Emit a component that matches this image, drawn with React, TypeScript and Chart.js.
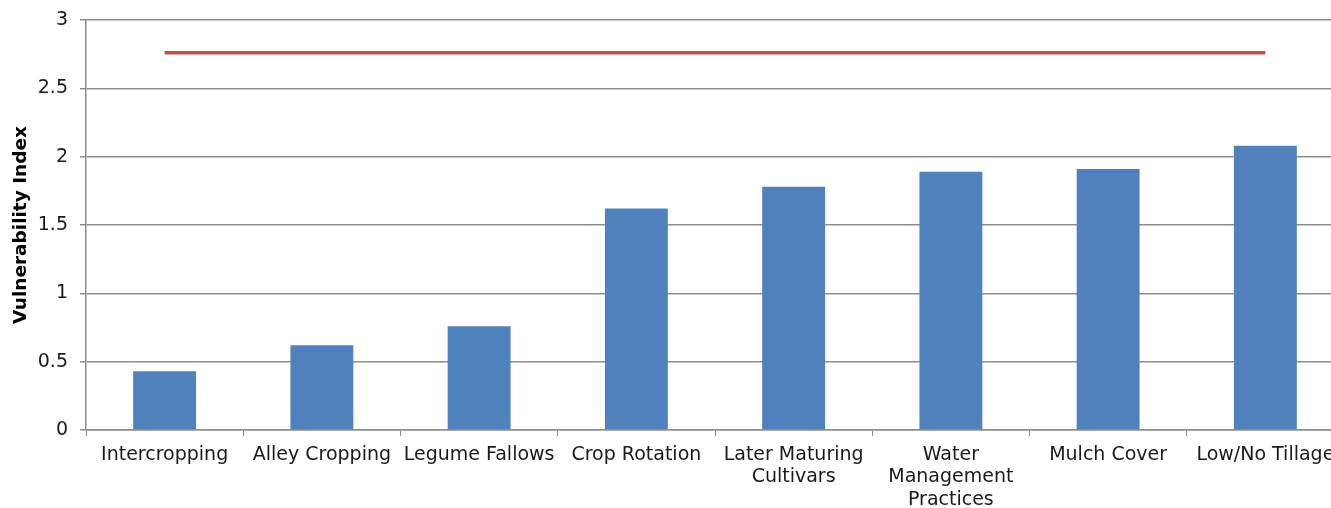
import React, { useEffect, useRef } from "react";
import { Chart, registerables } from "chart.js";

Chart.register(...registerables);

const categories: (string | string[])[] = [
  "Intercropping",
  "Alley Cropping",
  "Legume Fallows",
  "Crop Rotation",
  ["Later Maturing", "Cultivars"],
  ["Water", "Management", "Practices"],
  "Mulch Cover",
  "Low/No Tillage",
];
const vulnerability = [0.43, 0.62, 0.76, 1.62, 1.78, 1.89, 1.91, 2.08];
const threshold = [2.76, 2.76, 2.76, 2.76, 2.76, 2.76, 2.76, 2.76];
const yTicks = [0, 0.5, 1, 1.5, 2, 2.5, 3];

export default function App() {
  const ref = useRef<HTMLCanvasElement | null>(null);
  useEffect(() => {
    document.body.style.margin = "0";
    const ctx = ref.current!;
    const font = "'DejaVu Sans', Verdana, sans-serif";
    const chart = new Chart(ctx, {
      type: "bar",
      data: {
        labels: categories,
        datasets: [
          {
            type: "line",
            label: "Threshold",
            data: threshold,
            borderColor: "#c0504d",
            borderWidth: 3.5,
            pointRadius: 0,
            fill: false,
            order: 0,
          } as any,
          {
            type: "bar",
            label: "Vulnerability Index",
            data: vulnerability,
            backgroundColor: "#4f81bd",
            barPercentage: 0.4,
            categoryPercentage: 1,
            order: 1,
          },
        ],
      },
      options: {
        responsive: false,
        animation: false,
        maintainAspectRatio: false,
        layout: { padding: { top: 20, right: 0, bottom: 0, left: 0 } },
        plugins: { legend: { display: false }, tooltip: { enabled: false } },
        scales: {
          x: {
            offset: true,
            grid: {
              offset: true,
              drawOnChartArea: false,
              drawTicks: true,
              tickLength: 6,
              color: "#8e8e8e",
            },
            border: { display: true, color: "#8e8e8e", width: 1.5 },
            ticks: {
              color: "#1a1a1a",
              font: { family: font, size: 19, lineHeight: 1.17 },
              padding: 8,
              maxRotation: 0,
              autoSkip: false,
            },
            afterFit: (s: any) => {
              s.height = 78;
              s.paddingLeft = 0;
              s.paddingRight = 0;
            },
          },
          y: {
            min: 0,
            max: 3,
            afterBuildTicks: (s: any) => {
              s.ticks = yTicks.map((v) => ({ value: v }));
            },
            grid: { color: "#8e8e8e", lineWidth: 1.5, tickLength: 6 },
            border: { display: true, color: "#8e8e8e", width: 1.5 },
            ticks: {
              color: "#1a1a1a",
              font: { family: font, size: 19 },
              padding: 12,
              callback: (v: any) => String(v),
            },
            title: {
              display: true,
              text: "Vulnerability Index",
              color: "#000",
              font: { family: font, size: 18.5, weight: "bold" },
              padding: { top: 10, bottom: 0 },
            },
            afterFit: (s: any) => {
              s.width = 86;
              s.paddingTop = 0;
              s.paddingBottom = 0;
            },
          },
        },
      },
    });
    return () => chart.destroy();
  }, []);
  return (
    <div style={{ width: 1331, height: 508, overflow: "hidden" }}>
      <canvas ref={ref} width={1344} height={508} style={{ display: "block" }} />
    </div>
  );
}
